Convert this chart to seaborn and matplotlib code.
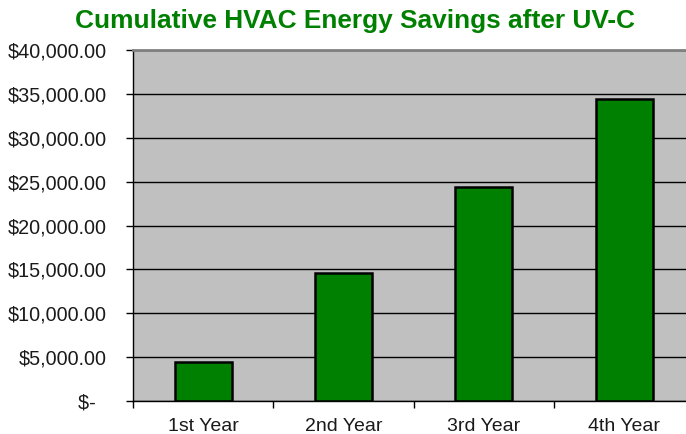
import matplotlib
matplotlib.use("Agg")
import matplotlib.pyplot as plt
import seaborn as sns
from matplotlib.ticker import FuncFormatter, FixedLocator

years = ["1st Year", "2nd Year", "3rd Year", "4th Year"]
savings = [4480, 14550, 24420, 34450]
y_ticks = [0, 5000, 10000, 15000, 20000, 25000, 30000, 35000, 40000]

sns.set_style("white")
plt.rcParams["font.family"] = ["Liberation Sans", "DejaVu Sans"]

fig = plt.figure(figsize=(6.86, 4.34), dpi=100)
ax = fig.add_axes([133 / 686, 33 / 434, 1 - 133 / 686, 351 / 434])
ax.set_facecolor("#C0C0C0")

sns.barplot(x=years, y=savings, color="#008000", saturation=1, width=0.405,
            edgecolor="black", linewidth=1.8, ax=ax, zorder=3)

ax.set_ylim(0, 40000)
ax.set_xlim(-0.5, 3.44)
ax.set_yticks(y_ticks)


def money(v, pos):
    if v == 0:
        return "$-  "
    return f"${v:,.2f}"


ax.yaxis.set_major_formatter(FuncFormatter(money))
ax.grid(axis="y", color="black", linewidth=1.0, zorder=0)
ax.set_axisbelow(True)

ax.tick_params(axis="y", length=5, width=1, color="black", pad=14,
               labelsize=14.2, labelcolor="#1a1a1a", direction="out", left=True)
ax.tick_params(axis="x", which="major", length=0, pad=12, labelsize=14,
               labelcolor="#1a1a1a")
ax.xaxis.set_minor_locator(FixedLocator([-0.5, 0.5, 1.5, 2.5]))
ax.tick_params(axis="x", which="minor", length=5, width=1, color="black",
               direction="out", bottom=True)

for side in ["left", "bottom"]:
    ax.spines[side].set_color("black")
    ax.spines[side].set_linewidth(1.0)
ax.spines["top"].set_color("#808080")
ax.spines["top"].set_linewidth(2)
ax.spines["right"].set_visible(False)
ax.set_xlabel("")
ax.set_ylabel("")

fig.text(355 / 686, 1 - 21 / 434, "Cumulative HVAC Energy Savings after UV-C",
         ha="center", va="center", fontsize=18.9, fontweight="bold", color="#008000")

fig.savefig("out.png", dpi=100)
